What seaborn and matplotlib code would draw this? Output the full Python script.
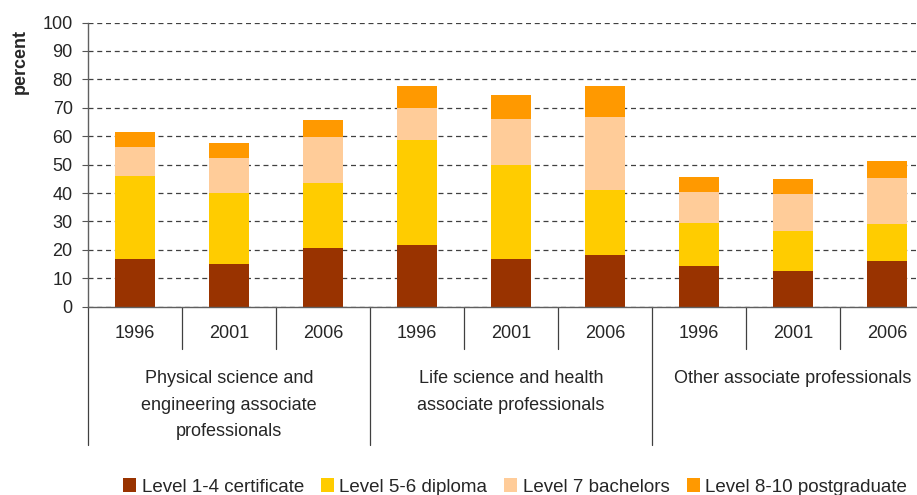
import pandas as pd
import seaborn as sns
import matplotlib.pyplot as plt
from matplotlib.patches import Patch

# Values (percent)
groups = ['Physical science and\nengineering associate\nprofessionals',
          'Life science and health\nassociate professionals',
          'Other associate professionals']
years = ['1996', '2001', '2006']
level_1_4 = [16.8, 15.0, 20.7, 21.7, 16.8, 18.2, 14.3, 12.6, 16.1]
level_5_6 = [29.2, 25.0, 22.8, 37.0, 33.1, 22.9, 15.2, 14.1, 13.0]
level_7 = [10.2, 12.4, 16.3, 11.3, 16.2, 25.7, 10.9, 13.0, 16.2]
level_8_10 = [5.3, 5.2, 5.9, 7.7, 8.4, 10.9, 5.3, 5.3, 6.0]

series_names = ['Level 1-4 certificate', 'Level 5-6 diploma',
                'Level 7 bachelors', 'Level 8-10 postgraduate']
colors = ['#993300', '#FFCC00', '#FFCC99', '#FF9900']

# Build a frame with one row per bar and the cumulative stack heights
keys = [f'{g}|{y}' for g in range(len(groups)) for y in years]
df = pd.DataFrame({'key': keys,
                   'year': years * len(groups),
                   's1': level_1_4, 's2': level_5_6, 's3': level_7, 's4': level_8_10})
df['c1'] = df['s1']
df['c2'] = df['c1'] + df['s2']
df['c3'] = df['c2'] + df['s3']
df['c4'] = df['c3'] + df['s4']

sns.set_theme(style='white')
plt.rcParams['font.family'] = ['Liberation Sans', 'DejaVu Sans']

fig = plt.figure(figsize=(9.17, 4.95), dpi=100)
ax = fig.add_axes([88 / 917, 0.3804, 846 / 917, 0.574])

# Draw the stack from the top layer down so each shorter bar covers the last
for col, color in zip(['c4', 'c3', 'c2', 'c1'], colors[::-1]):
    sns.barplot(data=df, x='key', y=col, order=keys, color=color,
                width=0.425, saturation=1, linewidth=0, ax=ax)

ax.set_xlim(-0.5, 8.5)
ax.set_ylim(0, 100)
ax.set_yticks(range(0, 101, 10))
ax.set_xticks(range(len(keys)))
ax.set_xticklabels(df['year'], fontsize=13)
ax.set_xlabel('')
ax.set_ylabel('')
ax.yaxis.grid(True, color='#404040', linestyle=(0, (4, 3)), linewidth=0.9)
ax.set_axisbelow(True)
ax.tick_params(axis='y', left=True, length=4, width=0.8, color='#555555',
               labelsize=13, pad=7)
ax.tick_params(axis='x', length=0, pad=13)

for side in ['top', 'right']:
    ax.spines[side].set_visible(False)
for side in ['left', 'bottom']:
    ax.spines[side].set_color('#606060')
    ax.spines[side].set_linewidth(1)

# Divider lines under the axis for years and groups
trans = ax.get_xaxis_transform()
for i in range(len(keys) + 1):
    x = i - 0.5
    bottom = -0.487 if i % 3 == 0 else -0.149
    ax.plot([x, x], [0, bottom], color='#404040', lw=0.9,
            transform=trans, clip_on=False)

for i, g in enumerate(groups):
    ax.text(3 * i + 1, -0.222, g, transform=trans, ha='center', va='top',
            fontsize=13, linespacing=1.75)

fig.text(20 / 917, 1 - 61 / 495, 'percent', rotation=90, ha='center',
         va='center', fontsize=13, fontweight='bold')

handles = [Patch(facecolor=c, edgecolor='none') for c in colors]
fig.legend(handles, series_names, loc='center', ncol=4,
           bbox_to_anchor=(515 / 917, 8 / 495), frameon=False, fontsize=13.5,
           handlelength=0.7, handleheight=0.7, handletextpad=0.3,
           columnspacing=0.9, borderpad=0)

fig.savefig('out.png', dpi=100)
